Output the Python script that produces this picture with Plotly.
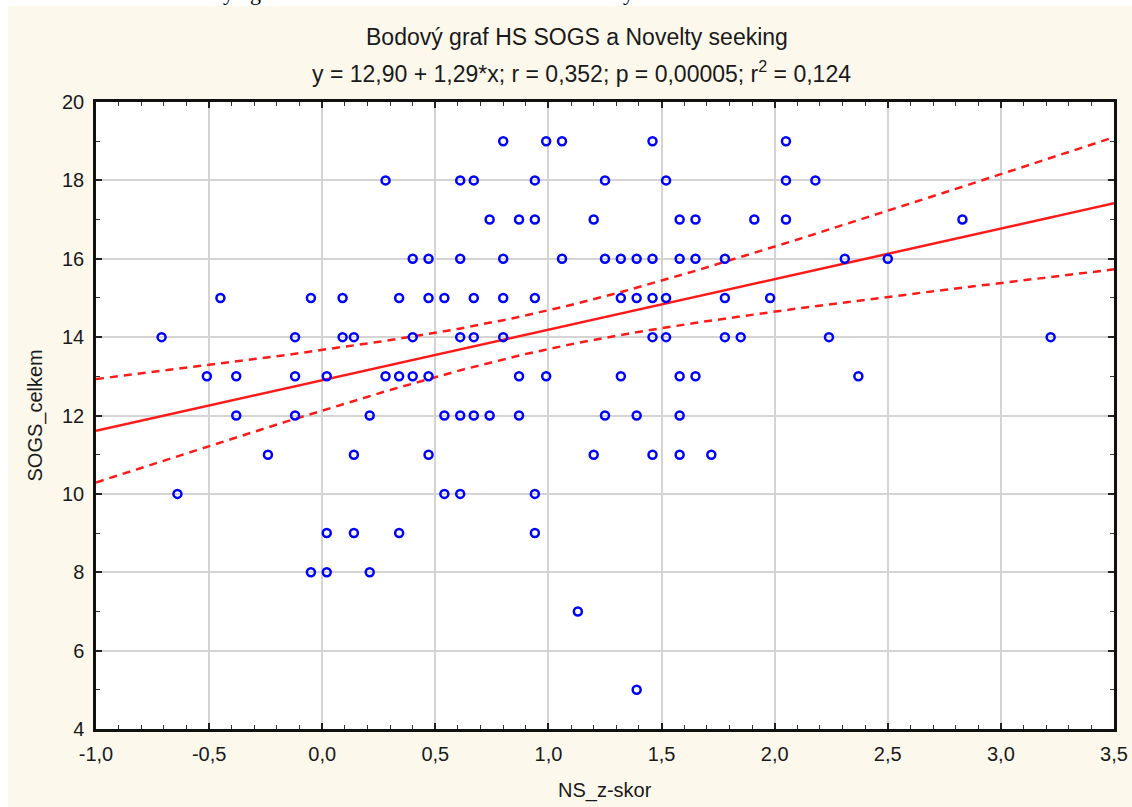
import numpy as np
import plotly.graph_objects as go

# ---- data: NS z-score (x) for each SOGS total score level (y) ----
sogs_levels = [19, 18, 17, 16, 15, 14, 13, 12, 11, 10, 9, 8, 7, 5]
ns_by_level = {
    19: [0.80, 0.99, 1.06, 1.46, 2.05],
    18: [0.28, 0.61, 0.67, 0.94, 1.25, 1.52, 2.05, 2.18],
    17: [0.74, 0.87, 0.94, 1.20, 1.58, 1.65, 1.91, 2.05, 2.83],
    16: [0.40, 0.47, 0.61, 0.80, 1.06, 1.25, 1.32, 1.39, 1.46, 1.58, 1.65, 1.78, 2.31, 2.50],
    15: [-0.45, -0.05, 0.09, 0.34, 0.47, 0.54, 0.67, 0.80, 0.94, 1.32, 1.39, 1.46, 1.52, 1.78, 1.98],
    14: [-0.71, -0.12, 0.09, 0.14, 0.40, 0.61, 0.67, 0.80, 1.46, 1.52, 1.78, 1.85, 2.24, 3.22],
    13: [-0.51, -0.38, -0.12, 0.02, 0.28, 0.34, 0.40, 0.47, 0.87, 0.99, 1.32, 1.58, 1.65, 2.37],
    12: [-0.38, -0.12, 0.21, 0.54, 0.61, 0.67, 0.74, 0.87, 1.25, 1.39, 1.58],
    11: [-0.24, 0.14, 0.47, 1.20, 1.46, 1.58, 1.72],
    10: [-0.64, 0.54, 0.61, 0.94],
    9: [0.02, 0.14, 0.34, 0.94],
    8: [-0.05, 0.02, 0.21],
    7: [1.13],
    5: [1.39],
}

# regression reported in the subtitle
intercept = 12.90
slope = 1.29
T_CRIT = 1.98      # two-sided 95 % t quantile, ~120 df
# number of respondents implied by r = 0.352 and p = 0.00005; several share
# identical score pairs, so their circles coincide on the plot
N_CASES = 124

x_ticks = [-1.0, -0.5, 0.0, 0.5, 1.0, 1.5, 2.0, 2.5, 3.0, 3.5]
x_ticktext = ["-1,0", "-0,5", "0,0", "0,5", "1,0", "1,5", "2,0", "2,5", "3,0", "3,5"]
y_ticks = [4, 6, 8, 10, 12, 14, 16, 18, 20]

title_text = "Bodový graf HS SOGS a Novelty seeking"
subtitle_text = "y = 12,90 + 1,29*x; r = 0,352; p = 0,00005; r<sup>2</sup> = 0,124"

# ---- flatten points ----
xs, ys = [], []
for lvl in sogs_levels:
    for v in ns_by_level[lvl]:
        xs.append(v)
        ys.append(lvl)
xs = np.array(xs)
ys = np.array(ys, dtype=float)

# ---- fitted line and 95 % confidence band of the mean ----
n_pts = len(xs)
xbar = xs.mean()
var_x = ((xs - xbar) ** 2).sum() / n_pts
resid = ys - (intercept + slope * xs)
s = np.sqrt((resid ** 2).sum() / (n_pts - 2))
sxx = var_x * N_CASES

xl = np.linspace(-1.0, 3.5, 200)
yl = intercept + slope * xl
half = T_CRIT * s * np.sqrt(1.0 / N_CASES + (xl - xbar) ** 2 / sxx)

RED = "#FF1A1A"
BLUE = "#0000FF"
FONT = "Liberation Sans, Arial, sans-serif"

fig = go.Figure()
fig.add_trace(go.Scatter(x=xl, y=yl + half, mode="lines",
                         line=dict(color=RED, width=2.5, dash="8px,6px"),
                         hoverinfo="skip", showlegend=False))
fig.add_trace(go.Scatter(x=xl, y=yl - half, mode="lines",
                         line=dict(color=RED, width=2.5, dash="8px,6px"),
                         hoverinfo="skip", showlegend=False))
fig.add_trace(go.Scatter(x=xl, y=yl, mode="lines",
                         line=dict(color=RED, width=2.5),
                         hoverinfo="skip", showlegend=False))
fig.add_trace(go.Scatter(x=xs, y=ys, mode="markers",
                         marker=dict(symbol="circle-open", size=8, color=BLUE,
                                     line=dict(width=2.5, color=BLUE)),
                         showlegend=False))

W, H = 1132, 807
L, R, T, B = 96, W - 1114, 102, H - 729
pw, ph = W - L - R, H - T - B


def px(xpix):
    return (xpix - L) / pw


def py(ypix):
    return (H - B - ypix) / ph


axis_common = dict(
    showline=True, linecolor="#111111", linewidth=2.5, mirror="allticks",
    ticks="inside", ticklen=6, tickwidth=1.5, tickcolor="#222222",
    showgrid=True, gridcolor="#D4D4D4", gridwidth=2,
    zeroline=False, automargin=False,
    tickfont=dict(family=FONT, size=20, color="#1A1A1A"),
    ticklabelstandoff=5,
)

fig.update_xaxes(range=[-1.0, 3.5], tickvals=x_ticks, ticktext=x_ticktext,
                 minor=dict(ticks="inside", ticklen=4, dtick=0.1,
                            tickcolor="#333333", tickwidth=1.2, showgrid=False),
                 **axis_common)
fig.update_yaxes(range=[4, 20], tickvals=y_ticks,
                 minor=dict(ticks="inside", ticklen=4, dtick=1,
                            tickcolor="#333333", tickwidth=1.2, showgrid=False),
                 **axis_common)

annotations = [
    dict(text=title_text, x=px(577), y=py(37), xref="paper", yref="paper",
         showarrow=False, xanchor="center", yanchor="middle",
         font=dict(family=FONT, size=23, color="#1A1A1A")),
    dict(text=subtitle_text, x=px(581), y=py(72), xref="paper", yref="paper",
         showarrow=False, xanchor="center", yanchor="middle",
         font=dict(family=FONT, size=23, color="#1A1A1A")),
    dict(text="NS_z-skor", x=0.5, y=py(790), xref="paper", yref="paper",
         showarrow=False, xanchor="center", yanchor="middle",
         font=dict(family=FONT, size=20, color="#1A1A1A")),
    dict(text="SOGS_celkem", x=px(35), y=0.5, xref="paper", yref="paper",
         showarrow=False, xanchor="center", yanchor="middle", textangle=-90,
         font=dict(family=FONT, size=20, color="#1A1A1A")),
]

# strip of the surrounding document above the chart panel
for ch, cx in (("y", 228), ("g", 255), ("y", 628)):
    annotations.append(dict(text=ch, x=px(cx), y=py(7), xref="paper", yref="paper",
                            showarrow=False, xanchor="center", yanchor="bottom",
                            font=dict(family="Liberation Serif, serif", size=22,
                                      color="#000000")))

shapes = [
    dict(type="rect", xref="paper", yref="paper", x0=px(-5), x1=px(W + 5),
         y0=py(6), y1=py(-10), fillcolor="#FFFFFF", line=dict(width=0), layer="below"),
    dict(type="rect", xref="paper", yref="paper", x0=px(-5), x1=px(8),
         y0=py(H + 5), y1=py(-10), fillcolor="#FFFFFF", line=dict(width=0), layer="below"),
]

fig.update_layout(
    width=W, height=H,
    margin=dict(l=L, r=R, t=T, b=B, autoexpand=False),
    paper_bgcolor="#FDF8EC",
    plot_bgcolor="#FFFFFF",
    annotations=annotations,
    shapes=shapes,
    showlegend=False,
)

fig.write_html("out.html")
